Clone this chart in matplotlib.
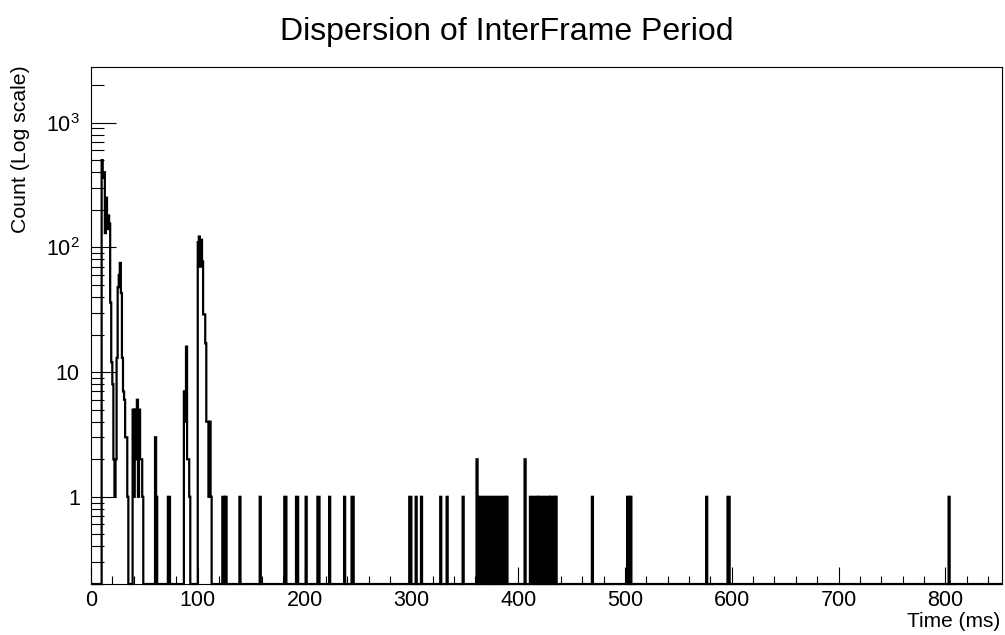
import numpy as np
import matplotlib
matplotlib.use("Agg")
import matplotlib.pyplot as plt
from matplotlib.ticker import FixedLocator, MultipleLocator, NullFormatter

plt.rcParams['font.family'] = ['Liberation Sans', 'DejaVu Sans']
plt.rcParams['mathtext.default'] = 'regular'

# 1 ms bins (bins not listed are empty)
bin_edges = np.arange(0, 854)
hit_ms = [10, 11, 12, 13, 14, 15, 16, 17, 18, 19, 20, 21, 22, 23, 24,
          25, 26, 27, 28, 29, 30, 31, 32, 33, 34,
          39, 40, 41, 42, 43, 44, 45, 46, 47, 48,
          60, 61, 72, 73,
          87, 88, 89, 90, 91, 92,
          100, 101, 102, 103, 104, 105, 106, 107, 108, 109, 110, 111, 112,
          123, 124, 126, 139, 158, 181, 182, 192, 193, 201, 212, 213, 223,
          237, 244, 245,
          298, 299, 304, 309, 327, 333, 348,
          361, 363, 366, 369, 372, 375, 378, 381, 384, 387, 389,
          406, 411, 414, 417, 419, 422, 425, 428, 430, 433, 435,
          469, 502, 503, 505, 576, 596, 597, 803]
hit_counts = [500, 360, 400, 130, 250, 140, 180, 155, 36, 12, 8, 2, 1, 2, 13,
              48, 60, 75, 43, 13, 7, 6, 3, 3, 1,
              5, 1, 5, 2, 6, 1, 5, 2, 2, 1,
              3, 1, 1, 1,
              7, 4, 16, 2, 2, 1,
              110, 122, 70, 115, 77, 29, 29, 17, 4, 4, 1, 4, 1,
              1, 1, 1, 1, 1, 1, 1, 1, 1, 1, 1, 1, 1,
              1, 1, 1,
              1, 1, 1, 1, 1, 1, 1,
              2, 1, 1, 1, 1, 1, 1, 1, 1, 1, 1,
              2, 1, 1, 1, 1, 1, 1, 1, 1, 1, 1,
              1, 1, 1, 1, 1, 1, 1, 1]

y_min, y_max = 0.2, 2790

counts = np.zeros(len(bin_edges) - 1)
counts[np.array(hit_ms)] = hit_counts
# empty bins sit on the bottom of the frame, as ROOT draws them on a log axis
shown = np.clip(counts, y_min, None)

fig = plt.figure(figsize=(10.05, 6.35), dpi=100)
ax = fig.add_axes([0.0905, 0.0803, 0.9065, 0.8142])

ax.stairs(shown, bin_edges, baseline=None, color='black', lw=1.6, clip_on=False)

ax.set_yscale('log')
ax.set_xlim(0, 853)
ax.set_ylim(y_min, y_max)

ax.xaxis.set_major_locator(MultipleLocator(100))
ax.xaxis.set_minor_locator(MultipleLocator(20))
ax.yaxis.set_major_locator(FixedLocator([1, 10, 100, 1000]))
ax.set_yticklabels(['1', '10', '$10^{2}$', '$10^{3}$'])
minor_y = [m * 10.0 ** d for d in range(-1, 4) for m in range(2, 10)]
ax.yaxis.set_minor_locator(FixedLocator(minor_y))
ax.yaxis.set_minor_formatter(NullFormatter())

ax.tick_params(axis='x', which='major', direction='in', length=12, width=0.8,
               labelsize=15.5, pad=4)
ax.tick_params(axis='x', which='minor', direction='in', length=6, width=0.8)
ax.tick_params(axis='y', which='major', direction='in', length=18, width=0.8,
               labelsize=15.5, pad=8)
ax.tick_params(axis='y', which='minor', direction='in', length=9, width=0.8)
for s in ax.spines.values():
    s.set_linewidth(0.8)

fig.text(0.504, 0.950, 'Dispersion of InterFrame Period', ha='center',
         va='center', fontsize=23)
fig.text(0.995, 0.022, 'Time (ms)', ha='right', va='center', fontsize=15)
fig.text(0.02, 0.897, 'Count (Log scale)', ha='center', va='top',
         rotation=90, fontsize=15.3)

fig.savefig('out.png', dpi=100)
